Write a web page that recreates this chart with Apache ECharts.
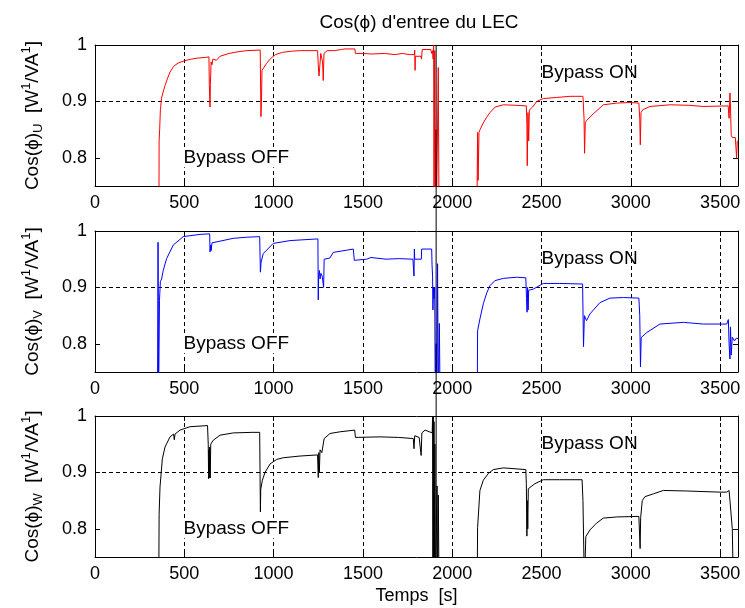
<!DOCTYPE html>
<html>
<head>
<meta charset="utf-8">
<script src="https://cdn.jsdelivr.net/npm/echarts@6/dist/echarts.min.js"></script>
<style>
html,body{margin:0;padding:0;background:#fff;}
#chart{width:745px;height:608px;}
</style>
</head>
<body>
<div id="chart"></div>
<script>
// ---------- data ----------
const titleText = "Cos(\u03D5) d'entree du LEC";
const xTickLabels = [0, 500, 1000, 1500, 2000, 2500, 3000, 3500];
const yTickLabels = [0.8, 0.9, 1];
const phaseNames = ['U', 'V', 'W'];
const phaseColors = ['#ff0000', '#0000ff', '#000000'];
const bypassOffPos = [490, 0.8];
const bypassOnPos = [2500, 0.95];
const switchTime = 1910;

const cosU = [
  [358,0.70],[359,0.83],[362,0.85],[366,0.885],[368,0.89],[372,0.905],[380,0.915],[392,0.928],[405,0.94],
  [420,0.952],[440,0.962],[465,0.968],[500,0.972],[540,0.975],[580,0.977],[620,0.978],[638,0.979],
  [640,0.93],[644,0.89],[646,0.93],[650,0.97],[655,0.965],[660,0.975],[680,0.973],[700,0.98],[750,0.985],
  [800,0.988],[850,0.99],[925,0.991],[927,0.99],[929,0.873],[932,0.90],[935,0.955],[945,0.96],[960,0.967],
  [980,0.975],[1010,0.983],[1050,0.987],[1100,0.989],[1150,0.99],[1246,0.99],[1250,0.965],[1254,0.945],
  [1258,0.96],[1264,0.985],[1274,0.97],[1278,0.937],[1282,0.985],[1300,0.99],[1340,0.99],[1380,0.992],
  [1400,0.993],[1455,0.993],[1458,0.985],[1500,0.985],[1550,0.984],[1620,0.985],[1680,0.983],[1720,0.985],
  [1760,0.983],[1788,0.983],[1790,0.991],[1792,0.955],[1794,0.98],[1825,0.98],[1828,0.975],[1832,0.992],
  [1880,0.992],[1885,0.985],[1890,0.99],[1893,0.975],[1896,1.0],[1898,0.70],[1902,0.99],[1905,0.70],
  [1908,0.85],[1912,0.70],[1922,0.96],[1926,0.70],[2138,0.70],
  [2142,0.845],[2145,0.76],[2150,0.845],[2156,0.85],[2174,0.862],[2193,0.872],[2211,0.88],[2240,0.89],
  [2286,0.894],[2360,0.893],[2415,0.892],[2418,0.86],[2420,0.786],[2424,0.88],[2428,0.83],[2432,0.885],
  [2450,0.89],[2473,0.90],[2510,0.905],[2585,0.907],[2660,0.909],[2732,0.909],[2738,0.87],[2741,0.808],
  [2745,0.862],[2752,0.866],[2790,0.878],[2846,0.894],[2921,0.897],[2995,0.898],[3045,0.897],[3050,0.87],
  [3053,0.823],[3057,0.88],[3066,0.885],[3107,0.891],[3220,0.894],[3330,0.893],[3405,0.891],[3545,0.892],
  [3550,0.87],[3555,0.915],[3558,0.89],[3562,0.84],[3568,0.836],[3585,0.836],[3592,0.80],[3596,0.83]
];

const cosV = [
  [350,0.70],[353,0.98],[356,0.70],[359,0.70],[361,0.877],[364,0.88],[366,0.91],[373,0.915],[382,0.93],
  [401,0.951],[438,0.975],[494,0.99],[588,0.994],[642,0.995],[644,0.963],[648,0.975],[650,0.965],[655,0.979],
  [700,0.982],[774,0.987],[850,0.989],[922,0.99],[926,0.927],[930,0.945],[942,0.96],[998,0.978],[1092,0.983],
  [1248,0.986],[1250,0.878],[1252,0.92],[1256,0.93],[1260,0.915],[1265,0.925],[1272,0.92],[1280,0.90],
  [1283,0.95],[1315,0.952],[1334,0.962],[1409,0.966],[1446,0.968],[1450,0.968],[1452,0.948],[1521,0.95],
  [1545,0.953],[1630,0.95],[1700,0.951],[1780,0.95],[1786,0.92],[1788,0.968],[1790,0.95],[1827,0.95],
  [1829,0.968],[1885,0.968],[1887,0.94],[1890,0.92],[1892,0.86],[1895,0.90],[1898,0.88],[1902,0.90],
  [1905,0.70],[1910,0.80],[1914,0.70],[1918,0.942],[1922,0.70],[1928,0.836],[1932,0.70],[2140,0.70],
  [2142,0.823],[2155,0.844],[2174,0.871],[2193,0.89],[2211,0.903],[2239,0.912],[2286,0.916],[2361,0.918],
  [2412,0.917],[2416,0.88],[2419,0.856],[2422,0.90],[2425,0.86],[2428,0.895],[2454,0.897],[2510,0.907],
  [2600,0.907],[2730,0.906],[2735,0.795],[2740,0.85],[2752,0.841],[2771,0.853],[2827,0.873],[2883,0.881],
  [2960,0.882],[3045,0.881],[3050,0.85],[3054,0.759],[3058,0.811],[3089,0.82],[3163,0.835],[3294,0.838],
  [3406,0.835],[3537,0.835],[3546,0.843],[3550,0.80],[3555,0.773],[3558,0.83],[3562,0.78],[3568,0.812],
  [3580,0.805],[3590,0.81],[3600,0.809]
];

const cosW = [
  [357,0.70],[359,0.826],[364,0.874],[370,0.897],[377,0.924],[392,0.945],[420,0.963],[440,0.968],[444,0.958],
  [448,0.968],[476,0.975],[532,0.981],[630,0.983],[634,0.95],[636,0.889],[638,0.94],[640,0.89],[642,0.945],
  [645,0.89],[648,0.95],[662,0.957],[700,0.966],[774,0.97],[880,0.971],[922,0.971],[926,0.83],[928,0.87],
  [937,0.886],[952,0.90],[980,0.915],[1017,0.923],[1054,0.926],[1148,0.929],[1246,0.931],[1250,0.891],
  [1253,0.935],[1256,0.90],[1260,0.94],[1270,0.935],[1280,0.936],[1283,0.96],[1316,0.969],[1372,0.972],
  [1454,0.975],[1458,0.962],[1596,0.963],[1700,0.962],[1782,0.96],[1786,0.942],[1790,0.965],[1815,0.962],
  [1826,0.93],[1830,0.97],[1848,0.975],[1888,0.97],[1890,1.0],[1892,0.70],[1894,1.0],[1896,0.70],
  [1898,0.99],[1900,0.70],[1903,0.95],[1906,0.70],[1915,0.876],[1918,0.70],[1922,0.86],[1926,0.70],
  [2140,0.70],[2142,0.802],[2155,0.868],[2174,0.886],[2202,0.898],[2230,0.905],[2286,0.908],[2412,0.905],
  [2415,0.88],[2418,0.787],[2420,0.85],[2423,0.80],[2426,0.871],[2463,0.88],[2510,0.887],[2600,0.887],
  [2727,0.887],[2732,0.85],[2740,0.70],[2745,0.70],[2748,0.786],[2771,0.798],[2808,0.81],[2846,0.819],
  [2921,0.821],[3045,0.822],[3052,0.765],[3055,0.82],[3064,0.85],[3079,0.857],[3126,0.862],[3182,0.868],
  [3313,0.867],[3499,0.865],[3537,0.865],[3550,0.868],[3555,0.85],[3568,0.80],[3574,0.70],[3600,0.70]
];

const seriesData = [cosU, cosV, cosW];

// ---------- layout ----------
const FONT = "'Liberation Sans', Arial, sans-serif";
const gridTops = [45, 231, 416];
const gridH = 141;
const gridL = 95;
const gridW = 643;

const grids = [], xAxes = [], yAxes = [], series = [];
const axisCol = '#000';

gridTops.forEach((top, i) => {
  grids.push({left: gridL, top: top, width: gridW, height: gridH});
  // bottom x axis
  xAxes.push({
    gridIndex: i, type: 'value', position: 'bottom', min: 0, max: 3600, interval: 500,
    axisLine: {show: true, onZero: false, lineStyle: {color: axisCol, width: 1}},
    axisTick: {show: true, inside: true, length: 5, lineStyle: {color: axisCol}},
    axisLabel: {show: true, color: '#000', fontSize: 18, fontFamily: FONT, margin: 8,
      showMaxLabel: false,
      formatter: v => (xTickLabels.indexOf(v) >= 0 ? String(v) : '')},
    splitLine: {show: true, lineStyle: {color: '#000', width: 1, type: [4, 3]}},
    name: i === 2 ? 'Temps  [s]' : '', nameLocation: 'middle', nameGap: 30,
    nameTextStyle: {color: '#000', fontSize: 18, fontFamily: FONT}
  });
  // top x axis (box)
  xAxes.push({
    gridIndex: i, type: 'value', position: 'top', min: 0, max: 3600, interval: 500,
    axisLine: {show: true, onZero: false, lineStyle: {color: axisCol, width: 1}},
    axisTick: {show: true, inside: true, length: 5, lineStyle: {color: axisCol}},
    axisLabel: {show: false}, splitLine: {show: false}
  });
  const nm = '{a|Cos(\u03D5)}{s|' + phaseNames[i] + '}{a|  [W}{p|1}{a|/VA}{p|1}{a|]}';
  yAxes.push({
    gridIndex: i, type: 'value', position: 'left', min: 0.75, max: 1, interval: 0.05,
    axisLine: {show: true, onZero: false, lineStyle: {color: axisCol, width: 1}},
    axisTick: {show: true, inside: true, length: 5, customValues: yTickLabels, lineStyle: {color: axisCol}},
    axisLabel: {show: true, color: '#000', fontSize: 18, fontFamily: FONT, margin: 8,
      formatter: v => {
        const r = Math.round(v * 100);
        if (r === 80) return '0.8';
        if (r === 90) return '0.9';
        if (r === 100) return '1';
        return '';
      }},
    splitLine: {show: true, lineStyle: {color: ['rgba(0,0,0,0)', '#000'], width: 1, type: [4, 3]}},
    name: nm, nameLocation: 'middle', nameRotate: 90, nameGap: 50,
    nameTextStyle: {
      color: '#000', fontFamily: FONT,
      rich: {
        a: {fontSize: 19, lineHeight: 25, fontFamily: FONT, color: '#000', verticalAlign: 'middle'},
        s: {fontSize: 13, lineHeight: 13, fontFamily: FONT, color: '#000', verticalAlign: 'bottom'},
        p: {fontSize: 13, lineHeight: 13, fontFamily: FONT, color: '#000', verticalAlign: 'top'}
      }
    }
  });
  yAxes.push({
    gridIndex: i, type: 'value', position: 'right', min: 0.75, max: 1, interval: 0.05,
    axisLine: {show: true, onZero: false, lineStyle: {color: axisCol, width: 1}},
    axisTick: {show: true, inside: true, length: 5, customValues: yTickLabels, lineStyle: {color: axisCol}},
    axisLabel: {show: false}, splitLine: {show: false}
  });

  series.push({
    type: 'line', xAxisIndex: 2 * i, yAxisIndex: 2 * i, data: seriesData[i],
    showSymbol: false, symbol: 'none', clip: true, animation: false,
    lineStyle: {color: phaseColors[i], width: 1}, itemStyle: {color: phaseColors[i]}, z: 3
  });
  series.push({
    type: 'scatter', xAxisIndex: 2 * i, yAxisIndex: 2 * i, data: [bypassOffPos],
    symbolSize: 0, animation: false, silent: true, z: 4,
    itemStyle: {opacity: 1, color: '#000'},
    label: {show: true, position: 'right', distance: 0, formatter: 'Bypass OFF',
      color: '#000', opacity: 1, fontSize: 19, fontFamily: FONT, backgroundColor: '#fff', padding: [0, 1]}
  });
  series.push({
    type: 'scatter', xAxisIndex: 2 * i, yAxisIndex: 2 * i, data: [bypassOnPos],
    symbolSize: 0, animation: false, silent: true, z: 4,
    itemStyle: {opacity: 1, color: '#000'},
    label: {show: true, position: 'right', distance: 0, formatter: 'Bypass ON',
      color: '#000', opacity: 1, fontSize: 19, fontFamily: FONT}
  });
});

// overlay grid for the switch-over marker spanning all three plots
grids.push({left: gridL, top: gridTops[0], width: gridW, height: gridTops[2] + gridH - gridTops[0]});
xAxes.push({gridIndex: 3, type: 'value', min: 0, max: 3600, show: false});
yAxes.push({gridIndex: 3, type: 'value', min: 0, max: 1, show: false});
series.push({
  type: 'line', xAxisIndex: 6, yAxisIndex: 6, data: [[switchTime, 0], [switchTime, 1]],
  showSymbol: false, symbol: 'none', animation: false, silent: true, z: 10,
  lineStyle: {color: '#000', width: 1}
});

const chart = echarts.init(document.getElementById('chart'), null, {renderer: 'canvas'});
chart.setOption({
  backgroundColor: '#fff',
  animation: false,
  title: {
    text: titleText, left: 414, top: 8, textAlign: 'center',
    textStyle: {fontSize: 19, fontWeight: 'normal', color: '#000', fontFamily: FONT}
  },
  grid: grids, xAxis: xAxes, yAxis: yAxes, series: series
});
</script>
</body>
</html>
